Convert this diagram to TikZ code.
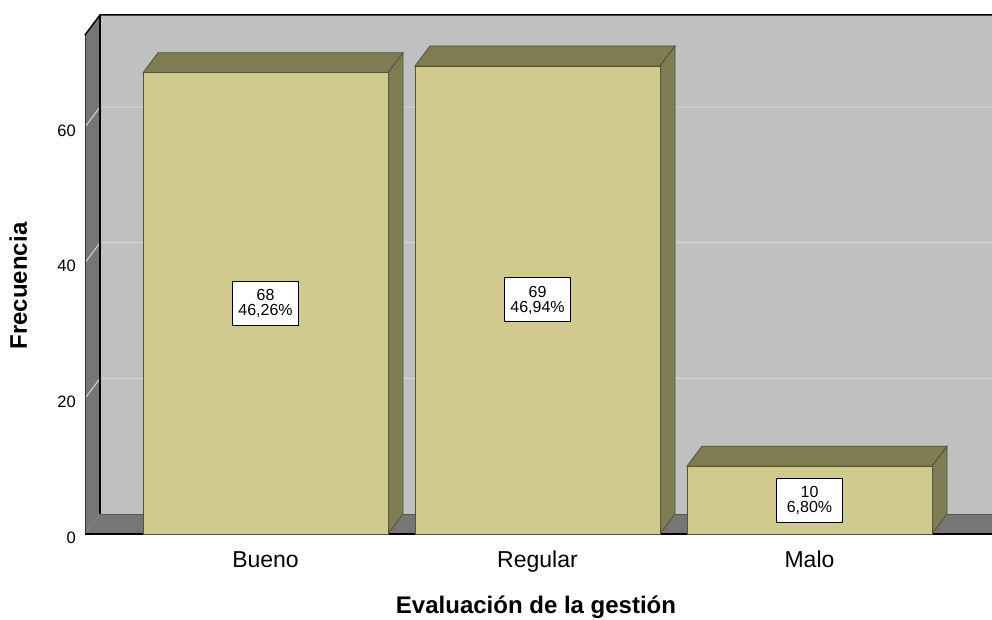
\documentclass[tikz,border=0pt]{standalone}
\usepackage{fontspec}
\setmainfont{Liberation Sans}
\definecolor{wallback}{RGB}{192,192,192}
\definecolor{wallside}{RGB}{118,118,118}
\definecolor{gridgray}{RGB}{214,214,214}
\definecolor{barfront}{RGB}{208,203,141}
\definecolor{barshade}{RGB}{127,123,83}
\definecolor{baredge}{RGB}{84,82,55}
\tikzset{
	barface/.style={fill=barfront, draw=baredge, line width=0.8},
	bartop/.style={fill=barshade, draw=baredge, line width=0.8},
	valuebox/.style={draw=black, fill=white, line width=1, align=center, minimum width=66, minimum height=44, inner sep=2, font=\fontsize{16}{15}\selectfont},
	ticklabel/.style={anchor=east, inner sep=0, font=\fontsize{16.5}{16.5}\selectfont},
	catlabel/.style={anchor=base, inner sep=0, font=\fontsize{23}{23}\selectfont},
	axistitle/.style={anchor=base, inner sep=0, font=\fontsize{24}{24}\selectfont\bfseries},
}
\begin{document}
\begin{tikzpicture}[x=1pt,y=1pt,yscale=-1,xscale=1]
	\useasboundingbox (0,0) rectangle (992,620);
	% walls and floor
	\fill[wallback] (100,15) rectangle (992,514);
	\fill[wallside] (85,35) -- (100,15) -- (100,514) -- (85,534) -- cycle;
	\fill[wallside] (85,534) -- (100,514) -- (992,514) -- (992,534) -- cycle;
	% grid lines
	\foreach \v in {20,40,60} {
		\draw[gridgray, line width=1] (85,{534-6.783*\v}) -- (100,{514-6.783*\v}) -- (992,{514-6.783*\v});
	}
	% frame edges
	\draw[black!65, line width=0.8] (100,514) -- (992,514);
	\draw[black!80, line width=1] (85,534) -- (85,35);
	\draw[black, line width=1.5] (85,35) -- (100,15) -- (992,15);
	\draw[black, line width=1.5] (100,15) -- (100,514);
	\draw[black, line width=2] (85,534) -- (992,534);
	% ticks
	\foreach \v in {0,20,40,60} {
		\node[ticklabel] (tick\v) at (76,{537.5-6.783*\v}) {\v};
	}
	% bars
	\foreach \xa/\val/\name/\pct [count=\i] in {143/68/Bueno/{46,26\%}, 415/69/Regular/{46,94\%}, 687/10/Malo/{6,80\%}} {
		\pgfmathsetmacro\xb{\xa+245}
		\pgfmathsetmacro\yt{534-6.783*\val}
		\draw[bartop] (\xa,\yt) -- ({\xa+15},{\yt-20}) -- ({\xb+15},{\yt-20}) -- (\xb,\yt) -- cycle;
		\draw[bartop] (\xb,\yt) -- ({\xb+15},{\yt-20}) -- ({\xb+15},514) -- (\xb,534) -- cycle;
		\draw[barface] (\xa,\yt) rectangle (\xb,534);
		\node[valuebox] (val\i) at ({\xa+122.5},{(\yt+534)/2}) {\val\\\pct};
		\node[catlabel] (cat\i) at ({\xa+122.5},567) {\name};
	}
	% axis titles
	\node[axistitle] (xtitle) at (536,613) {Evaluación de la gestión};
	\node[axistitle, rotate=90] (ytitle) at (27,286) {Frecuencia};
\end{tikzpicture}
\end{document}
